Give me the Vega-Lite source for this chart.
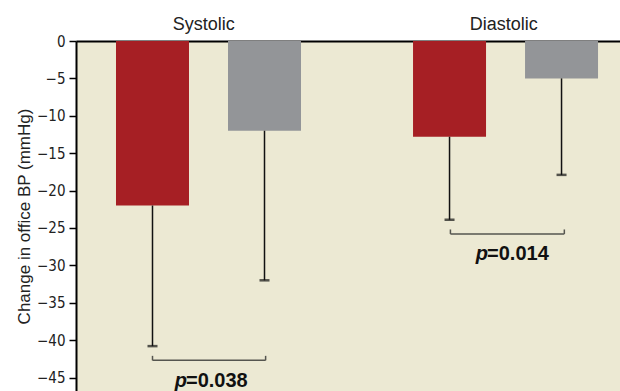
{
  "$schema": "https://vega.github.io/schema/vega-lite/v6.json",
  "width": 544,
  "height": 350,
  "autosize": {"type": "none"},
  "padding": {"left": 76, "top": 41, "right": 0, "bottom": 0},
  "background": "#ffffff",
  "config": {"view": {"fill": "#ece9d3", "stroke": null}},
  "datasets": {
    "bars": [
      {"group": "Systolic", "arm": "A", "pos": 1.0, "value": -22.0, "err": -40.8},
      {"group": "Systolic", "arm": "B", "pos": 2.0, "value": -12.0, "err": -32.0},
      {"group": "Diastolic", "arm": "A", "pos": 3.652, "value": -12.8, "err": -23.9},
      {"group": "Diastolic", "arm": "B", "pos": 4.652, "value": -5.0, "err": -17.9}
    ],
    "brackets": [
      {"x": 1.0, "x2": 2.01, "y": -42.7, "y2": -42.7},
      {"x": 1.0, "x2": 1.0, "y": -42.7, "y2": -42.1},
      {"x": 2.01, "x2": 2.01, "y": -42.7, "y2": -42.1},
      {"x": 3.66, "x2": 4.677, "y": -25.8, "y2": -25.8},
      {"x": 3.66, "x2": 3.66, "y": -25.8, "y2": -25.2},
      {"x": 4.677, "x2": 4.677, "y": -25.8, "y2": -25.2}
    ],
    "pvals": [
      {"pos": 1.299, "y": -46.2, "p": "p", "rest": "=0.038"},
      {"pos": 3.987, "y": -29.3, "p": "p", "rest": "=0.014"}
    ]
  },
  "layer": [
    {
      "data": {"name": "bars"},
      "mark": {"type": "bar", "size": 73},
      "encoding": {
        "x": {
          "field": "pos", "type": "quantitative",
          "scale": {"domain": [0.317, 5.174], "nice": false, "zero": false, "padding": 0},
          "axis": {
            "orient": "top", "title": null, "values": [1.454, 4.132],
            "labelExpr": "datum.value < 3 ? 'Systolic' : 'Diastolic'",
            "ticks": false, "tickSize": 0, "grid": false,
            "domain": true, "domainColor": "#000000", "domainWidth": 2,
            "labelFont": "Liberation Sans", "labelFontSize": 18, "labelColor": "#222222",
            "labelPadding": 8
          }
        },
        "y": {
          "field": "value", "type": "quantitative",
          "scale": {"domain": [-46.8, 0], "nice": false, "zero": false, "padding": 0},
          "axis": {
            "values": [0, -5, -10, -15, -20, -25, -30, -35, -40, -45],
            "tickCount": 20,
            "labelOverlap": false,
            "title": "Change in office BP (mmHg)",
            "titleFont": "Liberation Sans", "titleFontSize": 17, "titleFontWeight": "normal",
            "titleColor": "#222222", "titlePadding": 3,
            "labelFont": "'Liberation Sans Narrow', 'DejaVu Sans Condensed', 'Roboto Condensed', Roboto, sans-serif",
            "labelFontSize": 15, "labelColor": "#222222",
            "labelPadding": 4, "tickSize": 7, "tickColor": "#000000", "tickWidth": 1.5,
            "domainColor": "#000000", "domainWidth": 2, "grid": false
          }
        },
        "y2": {"datum": 0},
        "color": {
          "field": "arm", "type": "nominal", "legend": null,
          "scale": {"domain": ["A", "B"], "range": ["#a61f24", "#939598"]}
        }
      }
    },
    {
      "data": {"name": "bars"},
      "mark": {"type": "rule", "color": "#111111", "strokeWidth": 1.5},
      "encoding": {
        "x": {"field": "pos", "type": "quantitative"},
        "y": {"field": "value", "type": "quantitative"},
        "y2": {"field": "err"}
      }
    },
    {
      "data": {"name": "bars"},
      "mark": {"type": "tick", "orient": "horizontal", "size": 10, "thickness": 2.5, "color": "#111111"},
      "encoding": {
        "x": {"field": "pos", "type": "quantitative"},
        "y": {"field": "err", "type": "quantitative"}
      }
    },
    {
      "data": {"name": "brackets"},
      "mark": {"type": "rule", "color": "#55554f", "strokeWidth": 1.5},
      "encoding": {
        "x": {"field": "x", "type": "quantitative"},
        "x2": {"field": "x2"},
        "y": {"field": "y", "type": "quantitative"},
        "y2": {"field": "y2"}
      }
    },
    {
      "data": {"name": "pvals"},
      "mark": {"type": "text", "align": "right", "baseline": "alphabetic", "font": "Liberation Sans", "fontSize": 20, "fontWeight": "bold", "fontStyle": "italic", "color": "#111111", "dx": 1},
      "encoding": {
        "x": {"field": "pos", "type": "quantitative"},
        "y": {"field": "y", "type": "quantitative"},
        "text": {"field": "p"}
      }
    },
    {
      "data": {"name": "pvals"},
      "mark": {"type": "text", "align": "left", "baseline": "alphabetic", "font": "Liberation Sans", "fontSize": 20, "fontWeight": "bold", "color": "#111111"},
      "encoding": {
        "x": {"field": "pos", "type": "quantitative"},
        "y": {"field": "y", "type": "quantitative"},
        "text": {"field": "rest"}
      }
    }
  ]
}
